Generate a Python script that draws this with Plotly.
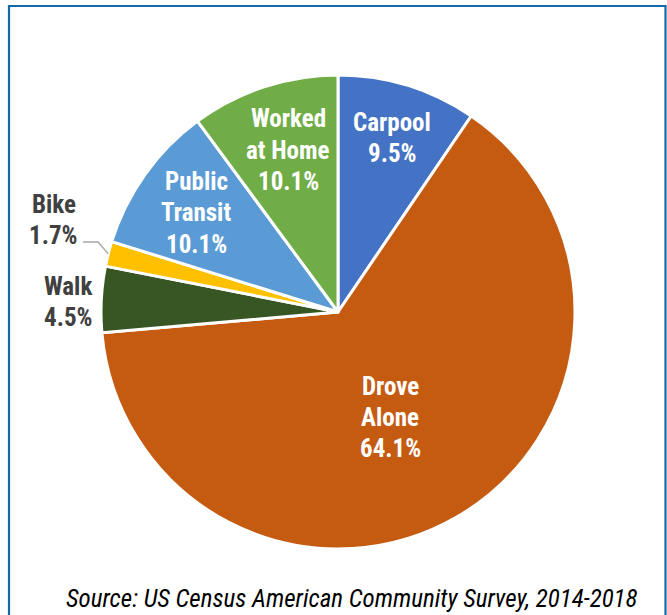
import math
import plotly.graph_objects as go

W, H = 667, 615

categories = ["Carpool", "Drove Alone", "Walk", "Bike", "Public Transit", "Worked at Home"]
label_lines = [["Carpool"], ["Drove", "Alone"], ["Walk"], ["Bike"], ["Public", "Transit"], ["Worked", "at Home"]]
values = [9.5, 64.1, 4.5, 1.7, 10.1, 10.1]
colors = ["#4472C4", "#C55A11", "#375623", "#FFC000", "#5B9BD5", "#70AD47"]
source_text = "Source: US Census American Community Survey, 2014-2018"

# layout (pixels)
CX, CY, R = 338, 312, 237
label_pos = [(392, 137.5), (390, 417), (68, 301.5), (54, 220), (196, 213), (288, 150)]
label_inside = [True, True, False, False, True, True]
LINE_H = 31
FONT = "Roboto Condensed, Liberation Sans, Arial"

fig = go.Figure(go.Pie(
    labels=categories, values=values, sort=False, direction="clockwise", rotation=0,
    marker=dict(colors=colors, line=dict(color="white", width=3)),
    textinfo="none", hoverinfo="label+percent", showlegend=False,
    domain=dict(x=[(CX - R) / W, (CX + R) / W], y=[(H - CY - R) / H, (H - CY + R) / H]),
))

annotations = []
shapes = []
for lines, v, (px, py), inside in zip(label_lines, values, label_pos, label_inside):
    all_lines = lines + [f"{v:.1f}%"]
    n = len(all_lines)
    col = "white" if inside else "#404040"
    for i, ln in enumerate(all_lines):
        ly = py + (i - (n - 1) / 2) * LINE_H
        annotations.append(dict(
            x=px / W, y=1 - ly / H, xref="paper", yref="paper",
            xanchor="center", yanchor="middle",
            text=f"<b>{ln}</b>", showarrow=False,
            font=dict(family=FONT, size=25, color=col),
        ))

# leader line for Bike: from label to the slice's outer edge at its mid-angle
total = sum(values)
bi = categories.index("Bike")
mid = (sum(values[:bi]) + values[bi] / 2) / total * 2 * math.pi
ex = CX + R * math.sin(mid)
ey = CY - R * math.cos(mid)
path = f"M {83/W} {1-242/H} L {98/W} {1-242/H} L {ex/W} {1-ey/H}"
shapes.append(dict(type="path", path=path, xref="paper", yref="paper",
                   line=dict(color="#A6A6A6", width=1.3)))

# frame
shapes.append(dict(type="rect", xref="paper", yref="paper",
                   x0=9 / W, x1=665.5 / W, y0=1 - 640 / H, y1=1 - 6 / H,
                   line=dict(color="#1368A8", width=2.2), fillcolor="rgba(0,0,0,0)"))

annotations.append(dict(
    x=352 / W, y=1 - 598 / H, xref="paper", yref="paper", xanchor="center", yanchor="middle",
    text=f"<i>{source_text}</i>", borderpad=0,
    showarrow=False, font=dict(family=FONT, size=25, color="#000000"),
))

fig.update_layout(
    width=W, height=H, margin=dict(l=0, r=0, t=0, b=0), paper_bgcolor="white",
    annotations=annotations, shapes=shapes,
)

fig.write_html("out.html", config={"displayModeBar": False},
               post_script="document.body.style.margin='0';")
